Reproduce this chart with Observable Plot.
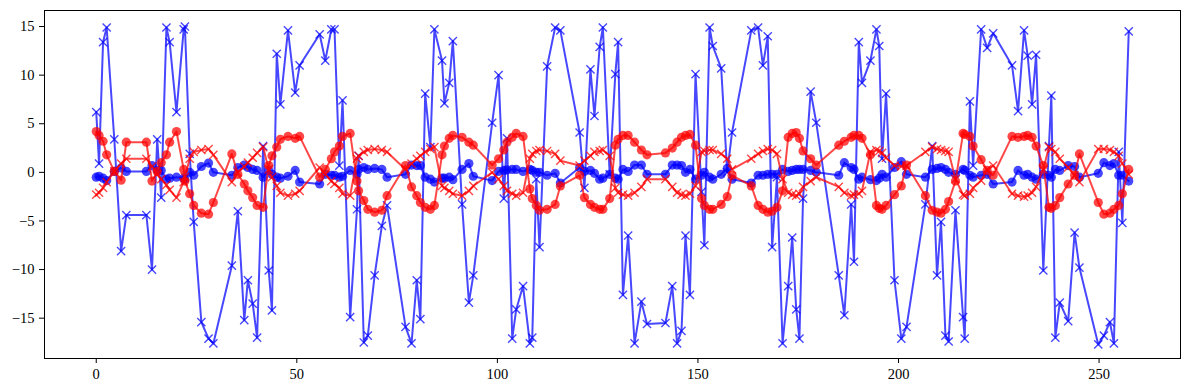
<!DOCTYPE html>
<html><head><meta charset="utf-8">
<script src="https://cdn.jsdelivr.net/npm/d3@7"></script>
<script src="https://cdn.jsdelivr.net/npm/@observablehq/plot@0.6"></script>
<style>body{margin:0;background:#fff}</style>
</head><body><div id="chart"></div>
<script>
const xs = [0.0,0.7,1.7,2.6,4.5,6.2,7.5,12.5,13.9,15.2,16.2,17.5,18.3,20.0,21.8,22.1,23.3,24.3,26.2,28.0,29.2,33.8,35.3,36.9,37.8,39.0,40.1,41.6,43.0,43.8,45.0,45.9,47.8,49.6,50.7,55.7,57.1,58.6,59.4,60.6,61.4,63.3,65.0,65.4,66.7,67.7,69.4,71.2,72.5,77.1,78.6,79.9,80.8,82.0,83.3,84.3,86.2,86.8,88.0,88.9,91.2,92.9,94.0,98.7,100.3,101.6,102.4,103.7,104.7,106.4,108.1,108.7,109.7,110.5,112.4,114.4,115.7,120.5,121.7,123.2,124.2,125.5,126.3,128.0,129.4,130.1,131.3,132.6,134.2,135.9,137.3,141.9,143.6,144.8,145.9,146.9,148.0,149.4,150.9,151.6,152.9,153.7,155.8,157.3,158.5,163.3,165.0,166.2,167.4,168.5,169.7,171.1,172.5,173.5,174.5,175.3,176.2,178.1,179.5,185.1,186.5,188.2,188.9,190.1,190.9,193.0,194.5,195.2,195.9,196.9,199.0,200.7,202.0,206.7,208.4,209.6,210.6,211.7,212.5,214.2,216.1,216.5,217.8,218.6,220.6,222.1,223.6,228.3,229.8,231.3,232.2,233.3,234.3,236.1,237.5,238.1,239.1,240.2,242.3,243.9,245.1,249.8,251.2,252.7,253.7,254.9,255.8,257.4];
const blueX = [6.2,0.9,13.4,14.9,3.4,-8.1,-4.4,-4.4,-10.0,3.4,-2.6,14.9,13.4,6.2,14.7,15.0,1.9,-5.1,-15.4,-17.1,-17.6,-9.6,-4.0,-15.2,-11.1,-13.5,-17.0,2.7,-10.1,-14.2,12.2,7.0,14.6,8.2,11.0,14.2,11.5,14.7,14.7,0.7,7.4,-14.9,-3.8,1.7,-17.5,-16.8,-10.6,-5.5,-3.4,-15.9,-17.6,-11.1,-15.1,8.1,2.6,14.7,11.5,7.1,9.2,13.5,-3.3,-13.4,-10.6,5.1,10.0,-2.7,3.5,-17.1,-14.1,-11.7,-17.6,-17.0,-0.7,-7.7,10.9,14.9,14.6,4.1,-1.6,10.6,5.8,12.9,14.9,-0.2,10.1,13.4,-12.6,-6.5,-17.6,-13.3,-15.6,-15.5,-11.7,-17.6,-16.3,-6.5,-12.6,10.1,-2.0,-7.5,14.9,13.0,10.7,0.0,4.1,14.6,14.9,11.0,14.0,-7.7,-0.5,-17.6,-11.7,-6.7,-14.1,-17.1,-2.7,8.3,5.1,-10.6,-14.7,-3.3,-9.2,13.4,9.2,11.5,14.7,13.0,1.4,8.1,-11.1,-17.1,-15.9,-3.3,2.7,-10.6,-5.1,-16.8,-17.4,-3.9,-14.9,-17.1,7.3,0.7,14.7,12.8,14.3,11.0,6.3,14.6,12.0,7.0,12.1,-10.1,2.7,7.9,-17.0,-13.4,-15.3,-6.2,-9.8,-17.7,-16.8,-15.4,-17.6,2.1,-5.2,14.5];
const blueO = [-0.5,-0.4,-0.6,-0.85,0.1,0.45,0.1,0.1,0.7,0.2,0.2,-0.7,-0.6,-0.5,-0.6,-0.7,0.0,-0.3,0.6,0.95,0.0,-0.3,0.5,0.75,0.5,0.3,0.2,-0.5,0.2,-0.2,-0.5,-0.6,-0.4,0.2,-1.0,-1.2,-0.2,-0.3,-0.3,-0.5,-0.4,0.2,-0.2,0.3,0.5,0.3,0.4,0.3,-0.5,-0.2,0.75,0.7,0.7,-0.5,-0.7,-1.0,-0.6,-0.6,-0.5,-0.75,0.3,0.9,-0.4,-0.85,0.1,0.2,0.25,0.3,0.3,0.1,0.3,0.2,0.0,0.0,-0.3,-0.1,-1.1,0.5,0.1,0.2,-0.1,-0.7,-0.6,-0.2,-0.6,-0.7,0.3,0.1,0.75,0.75,-0.2,-0.2,0.75,0.75,0.7,0.0,0.3,-0.7,-0.3,0.0,-0.5,-0.7,-0.2,0.4,-0.7,-1.1,-0.3,-0.3,-0.2,-0.2,-0.2,0.3,0.1,0.2,0.3,0.3,0.3,0.2,0.0,-0.3,1.0,0.5,0.3,-0.7,-0.5,-0.75,-0.85,-0.6,-0.2,-0.5,0.5,1.1,-0.2,-0.5,0.3,0.4,0.5,0.3,0.0,-0.2,0.3,0.2,-0.3,-0.5,-0.3,-0.2,-1.2,-1.0,0.2,-0.3,-0.2,-0.5,-0.7,-0.2,-0.3,-0.5,0.3,0.2,0.7,0.6,-0.5,-0.1,1.0,0.7,0.9,-0.3,-0.3,-0.9];
const redO = [4.2,3.8,3.2,1.8,0.1,-0.8,3.1,3.1,-0.9,0.1,1.0,1.8,3.1,4.2,0.3,-0.9,-2.2,-3.4,-4.2,-4.3,-3.1,1.9,-0.2,-1.2,-1.9,-2.6,-3.4,-3.6,0.7,1.7,2.6,3.4,3.7,3.5,3.7,-0.5,0.3,1.4,2.1,2.7,3.7,4.0,-0.9,-1.9,-2.9,-3.8,-4.1,-3.9,-2.4,0.7,-1.5,-2.4,-3.1,-3.6,-3.8,-3.4,1.8,2.7,3.5,3.8,3.6,3.1,2.8,0.75,1.4,2.3,3.1,3.6,4.0,3.7,-1.7,-2.7,-3.4,-3.9,-3.8,-3.3,-1.4,-0.3,-2.6,-3.3,-3.6,-3.8,-3.8,-2.7,2.8,3.4,3.8,3.8,3.1,2.3,1.8,2.0,2.5,3.1,3.6,3.8,3.9,2.8,-2.7,-3.4,-3.8,-3.8,-3.3,-2.5,-0.3,-1.4,-3.4,-3.8,-4.1,-4.0,-3.6,-1.9,3.6,4.0,4.1,3.5,2.2,1.4,0.75,2.8,3.2,3.6,3.8,3.8,3.5,1.8,-3.4,-3.7,-3.8,-3.4,-2.3,-1.4,0.75,-2.4,-3.9,-4.1,-4.2,-3.8,-3.0,-0.9,4.0,3.9,3.7,2.7,1.3,0.2,-0.3,3.7,3.6,3.7,3.8,3.6,2.7,0.7,-3.6,-3.7,-3.4,-2.6,-1.2,-0.3,1.9,-3.1,-4.3,-4.2,-3.8,-3.4,-2.2,0.3];
const redX = [-2.3,-2.1,-1.6,-1.0,0.1,0.9,1.4,1.4,0.6,-0.2,-0.7,-1.3,-1.8,-2.6,-1.0,-0.5,1.4,2.1,2.3,2.4,1.8,-1.0,0.0,0.6,1.0,1.5,2.0,2.6,0.3,-0.5,-1.4,-2.1,-2.4,-2.2,-1.9,0.5,-0.2,-0.9,-1.2,-1.6,-2.2,-2.4,1.4,1.7,2.1,2.3,2.4,2.3,2.1,0.3,0.9,1.4,1.7,2.1,2.4,2.6,-1.4,-1.6,-1.9,-2.2,-2.4,-1.9,-1.4,0.0,-0.7,-1.4,-1.9,-2.2,-2.4,-2.1,1.4,1.9,2.2,2.3,2.2,1.9,1.2,0.7,1.2,1.7,2.1,2.2,2.3,1.7,-1.6,-2.1,-2.3,-2.4,-2.1,-1.5,-0.7,-0.7,-1.5,-2.1,-2.3,-2.4,-2.2,-1.4,2.1,2.2,2.3,2.3,1.9,1.4,0.3,1.4,1.9,2.2,2.4,2.3,1.9,-0.7,-2.1,-2.3,-2.4,-2.2,-1.5,-0.9,-0.5,-1.5,-2.1,-2.4,-2.3,-2.2,-1.9,2.1,2.3,2.2,2.0,1.5,0.7,0.6,0.7,2.1,2.6,2.4,2.3,2.2,2.1,-0.7,-2.3,-2.4,-2.2,-1.6,-0.85,0.3,0.7,-2.2,-2.4,-2.5,-2.4,-2.1,-1.5,0.3,2.6,2.4,2.1,1.4,0.5,-0.3,-1.0,2.4,2.4,2.3,2.1,1.7,0.9,-0.2];
const xTicks = [0, 50, 100, 150, 200, 250];
const yTicks = [-15, -10, -5, 0, 5, 10, 15];

const rows = xs.map((x, i) => ({x, bx: blueX[i], bo: blueO[i], ro: redO[i], rx: redX[i]}));
const BLUE = "#0000ff", RED = "#ff0000";
const lineOpts = (y, c) => ({x: "x", y, stroke: c, strokeOpacity: 0.72, strokeWidth: 2});
const chart = Plot.plot({
  width: 1189, height: 390,
  marginLeft: 44, marginRight: 9, marginTop: 10, marginBottom: 32,
  x: {domain: [-12.9, 270.3]},
  y: {domain: [-19.15, 16.65]},
  style: {fontFamily: "'Liberation Serif', 'DejaVu Serif', serif", fontSize: "14.5px", background: "white", color: "black"},
  marks: [
    Plot.axisX({ticks: xTicks, tickSize: 5, tickPadding: 5, label: null}),
    Plot.axisY({ticks: yTicks, tickSize: 5, tickPadding: 5, label: null}),
    Plot.line(rows, lineOpts("bx", BLUE)),
    Plot.dot(rows, {x: "x", y: "bx", symbol: "times", r: 3.8, stroke: BLUE, strokeOpacity: 0.72, strokeWidth: 1.4}),
    Plot.line(rows, lineOpts("bo", BLUE)),
    Plot.dot(rows, {x: "x", y: "bo", symbol: "circle", r: 4.6, fill: BLUE, fillOpacity: 0.72, stroke: "none"}),
    Plot.line(rows, lineOpts("ro", RED)),
    Plot.dot(rows, {x: "x", y: "ro", symbol: "circle", r: 4.6, fill: RED, fillOpacity: 0.72, stroke: "none"}),
    Plot.line(rows, lineOpts("rx", RED)),
    Plot.dot(rows, {x: "x", y: "rx", symbol: "times", r: 3.8, stroke: RED, strokeOpacity: 0.72, strokeWidth: 1.4}),
    Plot.frame({stroke: "black", strokeWidth: 1})
  ]
});
document.getElementById("chart").appendChild(chart);
</script>
</body></html>
